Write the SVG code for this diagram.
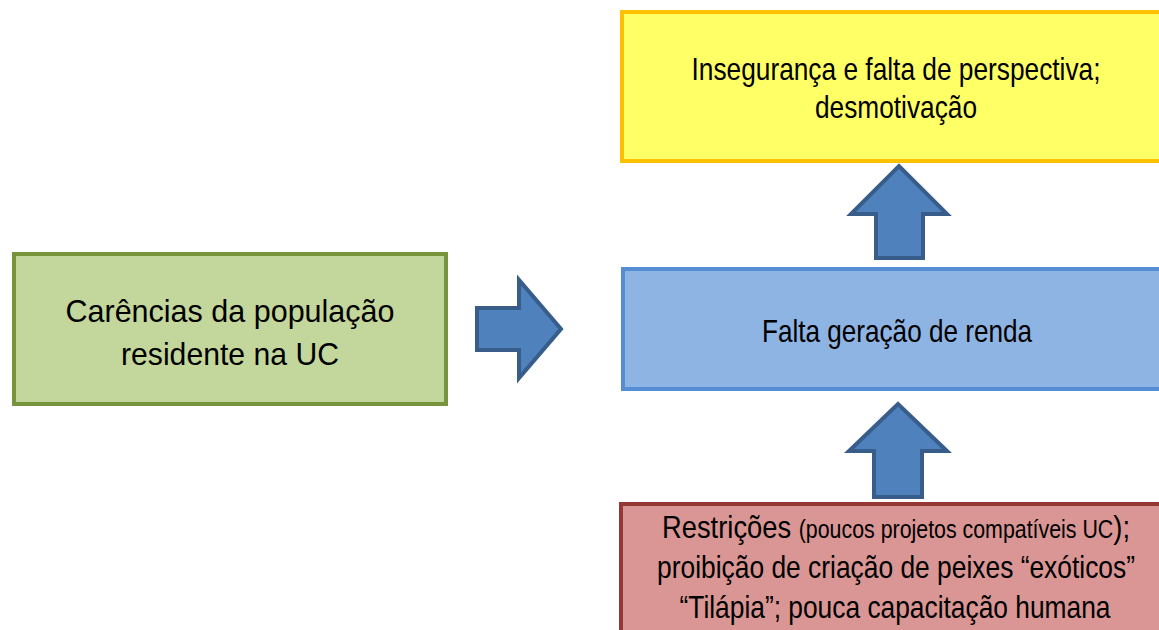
<svg xmlns="http://www.w3.org/2000/svg" width="1159" height="630" viewBox="0 0 1159 630">
<style>
.t{font-family:"Liberation Sans",Arial,sans-serif;fill:#000;text-anchor:middle;font-size:32px}
.arr{fill:#4F81BD;stroke:#385D8A;stroke-width:4;stroke-linejoin:miter}
</style>
<rect width="1159" height="630" fill="#fff"/>
<g id="node-inseguranca">
<rect x="622" y="12" width="554" height="149" fill="#FFFF66" stroke="#FFC000" stroke-width="4"/>
<text class="t" x="896" y="80" textLength="409" lengthAdjust="spacingAndGlyphs">Insegurança e falta de perspectiva;</text>
<text class="t" x="896" y="118" textLength="162" lengthAdjust="spacingAndGlyphs">desmotivação</text>
</g>
<g id="node-renda">
<rect x="623" y="269" width="554" height="120" fill="#8EB4E3" stroke="#558ED5" stroke-width="4"/>
<text class="t" x="897" y="342" textLength="270" lengthAdjust="spacingAndGlyphs">Falta geração de renda</text>
</g>
<g id="node-restricoes">
<rect x="621" y="504" width="554" height="140" fill="#D99694" stroke="#953735" stroke-width="4"/>
<text class="t" x="896" y="538" textLength="468" lengthAdjust="spacingAndGlyphs">Restrições <tspan font-size="25">(poucos projetos compatíveis UC</tspan>);</text>
<text class="t" x="896" y="578" textLength="478" lengthAdjust="spacingAndGlyphs">proibição de criação de peixes “exóticos”</text>
<text class="t" x="895" y="618" textLength="431" lengthAdjust="spacingAndGlyphs">“Tilápia”; pouca capacitação humana</text>
</g>
<g id="node-carencias">
<rect x="14" y="254" width="432" height="150" fill="#C3D69B" stroke="#77933C" stroke-width="4"/>
<text class="t" x="230" y="322" font-size="37" textLength="329" lengthAdjust="spacingAndGlyphs">Carências da população</text>
<text class="t" x="230" y="365" font-size="37" textLength="218" lengthAdjust="spacingAndGlyphs">residente na UC</text>
</g>
<g id="connectors">
<polygon class="arr" points="477,308 519,308 519,280 561,329 519,378 519,350 477,350"/>
<polygon class="arr" points="876,258 876,214 851,214 899,166 947,214 923,214 923,258"/>
<polygon class="arr" points="874,497 874,451 849,451 898,404 947,451 922,451 922,497"/>
</g>
</svg>
